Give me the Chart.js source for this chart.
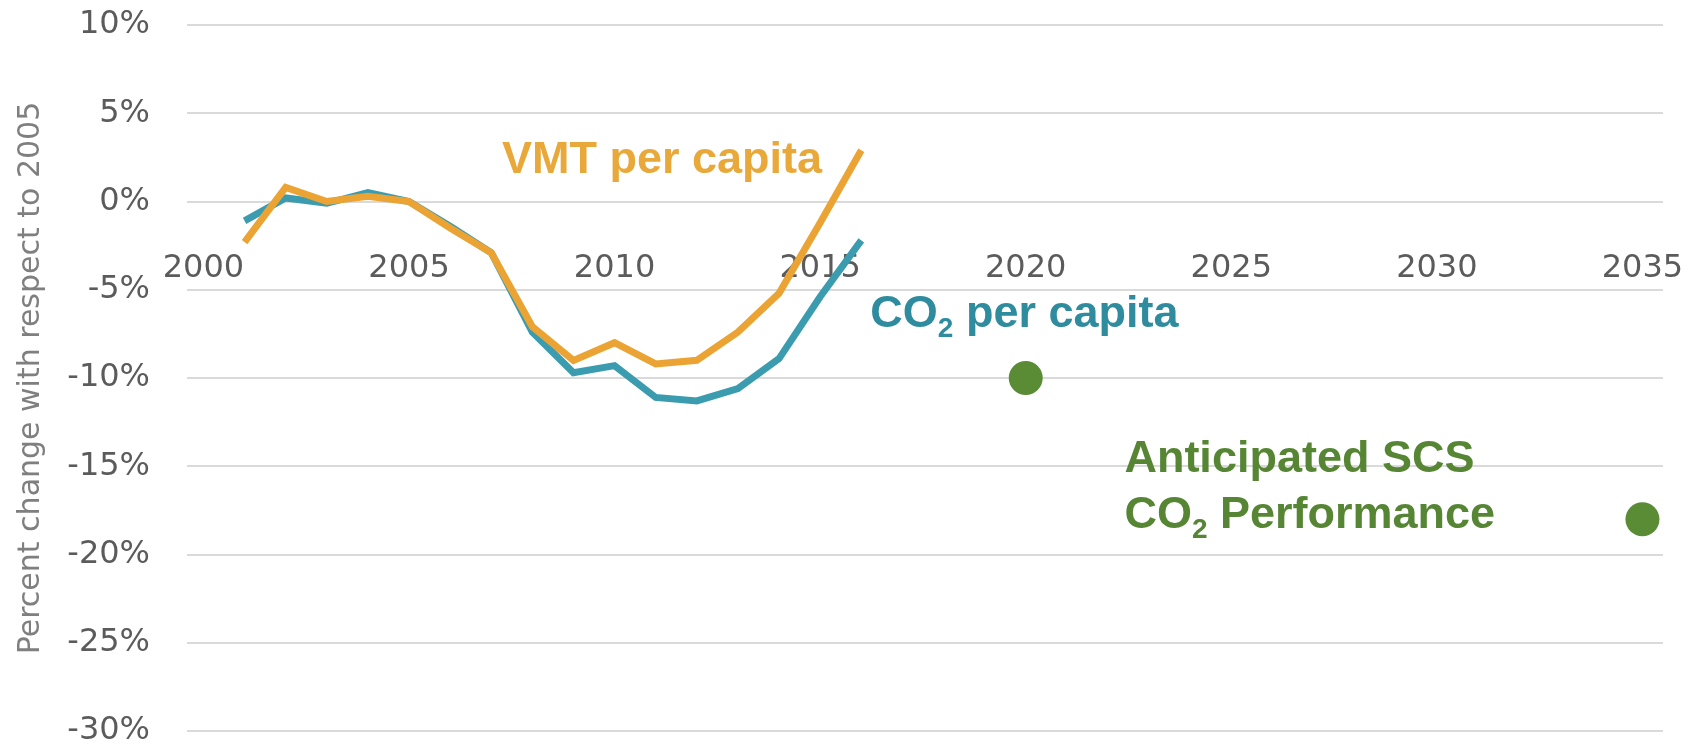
<!DOCTYPE html>
<html lang="en">
<head>
  <meta charset="UTF-8" />
  <title>VMT and CO2 per capita vs 2005</title>
  <script src="https://cdn.jsdelivr.net/npm/chart.js"></script>
  <style>
    body {
      margin: 0;
      background: #ffffff;
    }
    #wrap {
      width: 1707px;
      height: 754px;
    }
  </style>
</head>
<body>
  <div id="wrap">
    <canvas id="chart" width="1707" height="754"></canvas>
  </div>

  <script>
    // data (percent change vs 2005)
    const years = [2001, 2002, 2003, 2004, 2005, 2006, 2007, 2008, 2009, 2010, 2011, 2012, 2013, 2014, 2015, 2016];
    const vmtPerCapita = [-2.3, 0.8, 0.0, 0.3, 0.0, -1.5, -2.9, -7.1, -9.0, -8.0, -9.2, -9.0, -7.4, -5.2, -1.2, 2.9];
    const co2PerCapita = [-1.1, 0.2, -0.1, 0.5, 0.0, -1.4, -2.9, -7.4, -9.7, -9.3, -11.1, -11.3, -10.6, -8.9, -5.4, -2.2];
    const targetYears = [2020, 2035];
    const targetValues = [-10, -18];
    const xTickYears = [2000, 2005, 2010, 2015, 2020, 2025, 2030, 2035];

    const ORANGE = "#eba433";
    const TEAL = "#3b9cb0";
    const GREEN = "#5a8b35";
    const TICK_FONT = { family: "'DejaVu Sans', sans-serif", size: 32 };

    const toPoints = (xs, ys) => xs.map((x, i) => ({ x: x, y: ys[i] }));

    // text labels, anchored in data units (left edge, baseline)
    const notes = [
      { parts: [["VMT per capita", false]], x: 2007.26, y: 1.62, color: "#e9a93a" },
      { parts: [["CO", false], ["2", true], [" per capita", false]], x: 2016.22, y: -7.1, color: "#2f8c9e" },
      { parts: [["Anticipated SCS", false]], x: 2022.4, y: -15.3, color: "#568634" },
      { parts: [["CO", false], ["2", true], [" Performance", false]], x: 2022.4, y: -18.5, color: "#568634" }
    ];

    const notesPlugin = {
      id: "notes",
      afterDatasetsDraw(chart) {
        const { ctx, scales } = chart;
        ctx.save();
        ctx.textBaseline = "alphabetic";
        ctx.textAlign = "left";
        notes.forEach(n => {
          let px = scales.x.getPixelForValue(n.x);
          const py = scales.y.getPixelForValue(n.y);
          ctx.fillStyle = n.color;
          n.parts.forEach(([txt, sub]) => {
            ctx.font = sub ? "bold 28px 'Liberation Sans', Arial, sans-serif"
                           : "bold 45px 'Liberation Sans', Arial, sans-serif";
            ctx.fillText(txt, px, sub ? py + 10 : py);
            px += ctx.measureText(txt).width;
          });
        });
        ctx.restore();
      }
    };

    // keep the plot area where the reference has it
    const noPad = scale => {
      scale.paddingTop = 0;
      scale.paddingBottom = 0;
      scale.paddingLeft = 0;
      scale.paddingRight = 0;
    };

    new Chart(document.getElementById("chart").getContext("2d"), {
      type: "line",
      data: {
        datasets: [
          {
            label: "VMT per capita",
            data: toPoints(years, vmtPerCapita),
            borderColor: ORANGE,
            borderWidth: 7,
            pointRadius: 0,
            tension: 0,
            fill: false
          },
          {
            label: "CO2 per capita",
            data: toPoints(years, co2PerCapita),
            borderColor: TEAL,
            borderWidth: 7,
            pointRadius: 0,
            tension: 0,
            fill: false
          },
          {
            label: "Anticipated SCS CO2 Performance",
            data: toPoints(targetYears, targetValues),
            showLine: false,
            pointRadius: 17,
            pointBackgroundColor: GREEN,
            pointBorderWidth: 0
          }
        ]
      },
      options: {
        responsive: false,
        animation: false,
        layout: { padding: { left: 0, right: 44, top: 25, bottom: 23 } },
        plugins: {
          legend: { display: false },
          tooltip: { enabled: false }
        },
        scales: {
          x: {
            type: "linear",
            position: { y: 0 },
            min: 1999.6,
            max: 2035.5,
            afterBuildTicks: scale => {
              scale.ticks = xTickYears.map(v => ({ value: v }));
            },
            afterFit: noPad,
            grid: { display: false, drawTicks: false },
            border: { display: false },
            ticks: {
              font: TICK_FONT,
              color: "#5b5b5b",
              padding: 48,
              maxRotation: 0,
              callback: v => String(v)
            }
          },
          y: {
            min: -30,
            max: 10,
            afterFit: scale => {
              noPad(scale);
              scale.width = 187;
            },
            ticks: {
              stepSize: 5,
              font: TICK_FONT,
              color: "#5b5b5b",
              padding: 37,
              callback: v => v + "%"
            },
            grid: { color: "#dadada", lineWidth: 2, drawTicks: false },
            border: { display: false },
            title: {
              display: true,
              text: "Percent change with respect to 2005",
              font: { family: "'DejaVu Sans', sans-serif", size: 30 },
              color: "#7f7f7f",
              padding: { top: 13, bottom: 0 }
            }
          }
        }
      },
      plugins: [notesPlugin]
    });
  </script>
</body>
</html>
